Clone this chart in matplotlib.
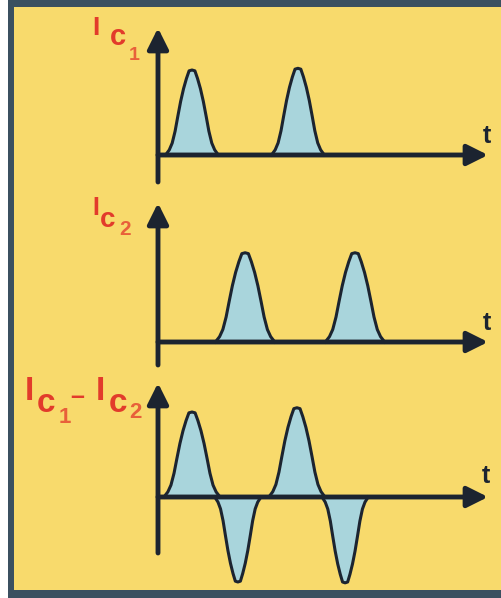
import numpy as np
import matplotlib.pyplot as plt
from matplotlib.patches import Rectangle

W, H = 502, 598

# pulse shape (offset / half-width, height / peak)
profile_x = [-1.0, -0.86, -0.75, -0.64, -0.54, -0.43, -0.32, -0.21, -0.11, 0.0,
             0.11, 0.21, 0.32, 0.43, 0.54, 0.64, 0.75, 0.86, 1.0]
profile_y = [0.0, 0.06, 0.14, 0.28, 0.45, 0.63, 0.78, 0.90, 0.99, 1.0,
             0.99, 0.90, 0.78, 0.63, 0.45, 0.28, 0.14, 0.06, 0.0]

# pulses of each trace: centre (t), peak, half-width (t)
ic1_centres = [1.03, 4.24]
ic1_peaks = [1.0, 1.02]
ic1_widths = [0.80, 0.80]

ic2_centres = [2.64, 5.97]
ic2_peaks = [1.05, 1.05]
ic2_widths = [0.90, 0.90]

diff_centres = [1.03, 2.42, 4.21, 5.67]
diff_peaks = [1.0, -1.0, 1.05, -1.01]
diff_widths = [0.85, 0.70, 0.85, 0.70]

YELLOW = '#f8da6c'
BORDER = '#3b5060'
INK = '#1c2430'
FILL = '#a9d5dc'
RED = '#e23b2b'
ORANGE = '#e8603a'

# layout in pixels
PX_T, PX_A = 33.0, 85.0
X0, XTIP = 158, 488
panels = [  # baseline, arrow tip, axis bottom
    dict(oy=155, top=28, bottom=182),
    dict(oy=342, top=203, bottom=365),
    dict(oy=497, top=383, bottom=553),
]
traces = [(ic1_centres, ic1_peaks, ic1_widths),
          (ic2_centres, ic2_peaks, ic2_widths),
          (diff_centres, diff_peaks, diff_widths)]

fig = plt.figure(figsize=(W / 100, H / 100), dpi=100)
fig.patch.set_facecolor('white')

bg = fig.add_axes([0, 0, 1, 1])
bg.set_xlim(0, W)
bg.set_ylim(H, 0)
bg.axis('off')
bg.add_patch(Rectangle((8, 0), W - 8, H, color=BORDER, lw=0))
bg.add_patch(Rectangle((14, 7), W - 14, 583, color=YELLOW, lw=0))

px = np.array(profile_x)
py = np.array(profile_y)

for p, (centres, peaks, widths) in zip(panels, traces):
    ax = fig.add_axes([0, 0, 1, 1])
    ax.patch.set_alpha(0)
    ax.axis('off')
    ax.set_xlim(-X0 / PX_T, (W - X0) / PX_T)
    ax.set_ylim((p['oy'] - H) / PX_A, p['oy'] / PX_A)

    for c, a, w in zip(centres, peaks, widths):
        xs = c + w * px
        ys = a * py
        ax.fill(xs, ys, color=FILL, lw=0, zorder=2)
        ax.plot(xs, ys, color=INK, lw=2.2, solid_joinstyle='round', zorder=3)

    y_bot = -(p['bottom'] - p['oy']) / PX_A
    y_top = (p['oy'] - p['top']) / PX_A
    x_tip = (XTIP - X0) / PX_T
    style = '-|>,head_length=0.9,head_width=0.45'
    ax.annotate('', xy=(0, y_top), xytext=(0, y_bot),
                arrowprops=dict(arrowstyle=style, lw=3.5, color=INK,
                                mutation_scale=14, shrinkA=0, shrinkB=0),
                zorder=4)
    ax.annotate('', xy=(x_tip, 0), xytext=(0, 0),
                arrowprops=dict(arrowstyle=style, lw=3.5, color=INK,
                                mutation_scale=14, shrinkA=0, shrinkB=0),
                zorder=4)

# axis labels
lab = dict(fontfamily='Liberation Sans', fontweight='bold', va='baseline')
bg.text(483, 143, 't', fontsize=18, color=INK, **lab)
bg.text(483, 330, 't', fontsize=18, color=INK, **lab)
bg.text(482, 483, 't', fontsize=18, color=INK, **lab)

bg.text(92, 35, 'I', fontsize=19, color=RED, **lab)
bg.text(110, 45, 'c', fontsize=21, color=RED, **lab)
bg.text(129, 60, '1', fontsize=14, color=ORANGE, **lab)

bg.text(92, 215, 'I', fontsize=18, color=RED, **lab)
bg.text(100, 227, 'c', fontsize=20, color=RED, **lab)
bg.text(119, 235, '2', fontsize=15, color=ORANGE, **lab)

bg.text(25, 400, 'I', fontsize=24, color=RED, **lab)
bg.text(37, 412, 'c', fontsize=24, color=RED, **lab)
bg.text(59, 423, '1', fontsize=16, color=ORANGE, **lab)
bg.text(70, 404, '–', fontsize=18, color=RED, **lab)
bg.text(96, 400, 'I', fontsize=24, color=RED, **lab)
bg.text(109, 412, 'c', fontsize=24, color=RED, **lab)
bg.text(129, 418, '2', fontsize=16, color=ORANGE, **lab)

fig.savefig('out.png', dpi=100)
